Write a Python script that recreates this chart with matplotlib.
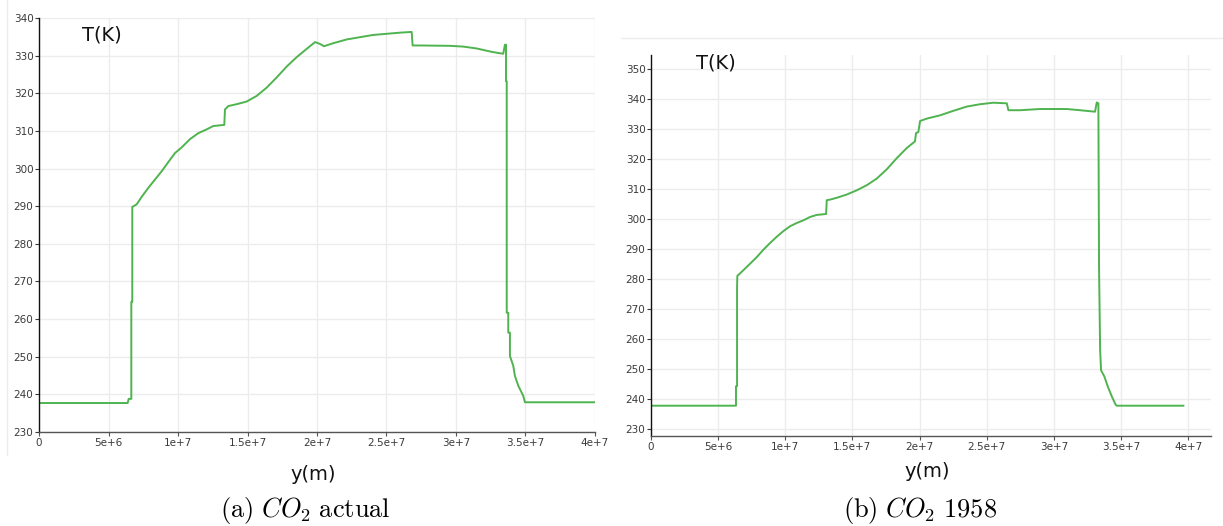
import matplotlib
matplotlib.use("Agg")
import matplotlib.pyplot as plt
from matplotlib.lines import Line2D
import numpy as np

plt.rcParams["font.family"] = ["DejaVu Sans"]
plt.rcParams["mathtext.fontset"] = "cm"

# Temperature profile along y, present-day CO2 (positions in 1e6 m)
y_actual = [0, 6.38, 6.45, 6.64, 6.64, 6.71, 6.71, 7.03, 7.39, 7.87, 8.35, 8.83, 9.30,
            9.78, 10.26, 10.86, 11.46, 12.06, 12.54, 13.33, 13.38, 13.62, 14.22, 14.94,
            15.66, 16.38, 17.10, 17.82, 18.54, 19.26, 19.86, 20.22, 20.50, 21.17, 22.14,
            23.09, 24.05, 25.01, 25.97, 26.81, 26.88, 27.41, 29.57, 30.53, 31.49, 32.45,
            33.04, 33.40, 33.52, 33.60, 33.60, 33.65, 33.65, 33.76, 33.76, 33.88, 33.88,
            34.12, 34.24, 34.48, 34.84, 34.96, 40.0]
T_actual = [237.7, 237.7, 238.8, 238.8, 264.6, 264.6, 289.8, 290.5, 292.5, 294.9, 297.1,
            299.3, 301.7, 304.1, 305.6, 307.8, 309.4, 310.4, 311.3, 311.6, 315.7, 316.6,
            317.1, 317.8, 319.3, 321.5, 324.2, 327.1, 329.6, 331.8, 333.6, 333.1, 332.5,
            333.3, 334.3, 334.9, 335.5, 335.8, 336.1, 336.3, 332.7, 332.7, 332.6, 332.4,
            331.9, 331.1, 330.7, 330.5, 332.9, 332.9, 323.2, 323.2, 261.7, 261.7, 256.4,
            256.4, 250.2, 247.6, 244.9, 242.3, 239.6, 237.9, 237.9]

# Temperature profile along y, 1958 CO2 (positions in 1e6 m)
y_1958 = [0, 6.26, 6.33, 6.33, 6.41, 6.41, 6.43, 6.63, 7.00, 7.37, 7.87, 8.37, 8.86, 9.36,
          9.86, 10.35, 10.85, 11.35, 11.84, 12.34, 13.04, 13.09, 13.33, 13.83, 14.58,
          15.32, 16.07, 16.81, 17.56, 18.30, 19.05, 19.66, 19.74, 19.91, 20.04, 20.54,
          21.53, 22.52, 23.51, 24.51, 25.50, 26.50, 26.62, 27.49, 28.98, 30.96, 31.96,
          33.07, 33.20, 33.32, 33.37, 33.45, 33.52, 33.77, 34.02, 34.32, 34.61, 34.69,
          39.65]
T_1958 = [237.8, 237.8, 237.8, 244.3, 244.3, 277.2, 281.1, 281.9, 283.5, 285.1, 287.3,
          289.8, 292.0, 294.1, 296.0, 297.6, 298.7, 299.6, 300.7, 301.4, 301.7, 306.3,
          306.5, 307.1, 308.2, 309.6, 311.3, 313.5, 316.6, 320.3, 323.7, 325.9, 328.7,
          329.0, 332.7, 333.5, 334.6, 336.1, 337.5, 338.3, 338.8, 338.6, 336.3, 336.3,
          336.7, 336.7, 336.3, 335.8, 338.9, 338.6, 283.7, 256.4, 249.6, 247.5, 244.2,
          240.9, 238.1, 237.8, 237.8]

x_ticks = [0, 5e6, 1e7, 1.5e7, 2e7, 2.5e7, 3e7, 3.5e7, 4e7]
x_tick_labels = ["0", "5e+6", "1e+7", "1.5e+7", "2e+7", "2.5e+7", "3e+7", "3.5e+7", "4e+7"]
y_ticks_a = list(range(230, 341, 10))
y_ticks_b = list(range(230, 351, 10))

line_color = "#4fb34f"
grid_color = "#ececec"
tick_color = "#3a3a3a"

fig = plt.figure(figsize=(12.23, 5.26), dpi=100)

ax_a = fig.add_axes([0.0319, 0.1787, 0.4546, 0.7871])
ax_b = fig.add_axes([0.5323, 0.1711, 0.4578, 0.7243])


def style_axes(ax, yticks):
    ax.set_xticks(x_ticks)
    ax.set_xticklabels(x_tick_labels)
    ax.set_yticks(yticks)
    ax.set_yticklabels([str(v) for v in yticks])
    ax.grid(True, color=grid_color, linewidth=1.0)
    ax.set_axisbelow(True)
    for side in ("top", "right"):
        ax.spines[side].set_visible(False)
    ax.spines["left"].set_color("#111111")
    ax.spines["left"].set_linewidth(1.0)
    ax.spines["bottom"].set_color("#555555")
    ax.spines["bottom"].set_linewidth(1.0)
    ax.tick_params(axis="both", direction="out", length=3, width=0.8,
                   colors=tick_color, labelsize=7.5, pad=1)
    ax.tick_params(axis="x", colors="#555555", labelcolor=tick_color)


ax_a.plot(np.array(y_actual) * 1e6, T_actual, color=line_color, linewidth=1.4)
ax_a.set_xlim(0, 4e7)
ax_a.set_ylim(230, 340)
style_axes(ax_a, y_ticks_a)

ax_b.plot(np.array(y_1958) * 1e6, T_1958, color=line_color, linewidth=1.4)
ax_b.set_xlim(0, 4.17e7)
ax_b.set_ylim(227.7, 354.7)
style_axes(ax_b, y_ticks_b)

# Axis titles placed inside the figure
fig.text(0.067, 0.933, "T(K)", fontsize=14, color="#111111", va="center", ha="left")
fig.text(0.569, 0.880, "T(K)", fontsize=14, color="#111111", va="center", ha="left")
fig.text(0.256, 0.097, "y(m)", fontsize=14, color="#111111", va="center", ha="center")
fig.text(0.758, 0.103, "y(m)", fontsize=14, color="#111111", va="center", ha="center")

# Sub-figure captions
fig.text(0.250, 0.030, r"$\mathrm{(a)}\ CO_2\ \mathrm{actual}$", fontsize=19,
         va="center", ha="center")
fig.text(0.752, 0.030, r"$\mathrm{(b)}\ CO_2\ \mathrm{1958}$", fontsize=19,
         va="center", ha="center")

# Faint panel frame edges
fig.add_artist(Line2D([0.006, 0.006], [1.0, 0.135], color="#ececec", linewidth=1.0))
fig.add_artist(Line2D([0.508, 1.0], [0.928, 0.928], color="#ececec", linewidth=1.0))

fig.savefig("out.png", dpi=100)
